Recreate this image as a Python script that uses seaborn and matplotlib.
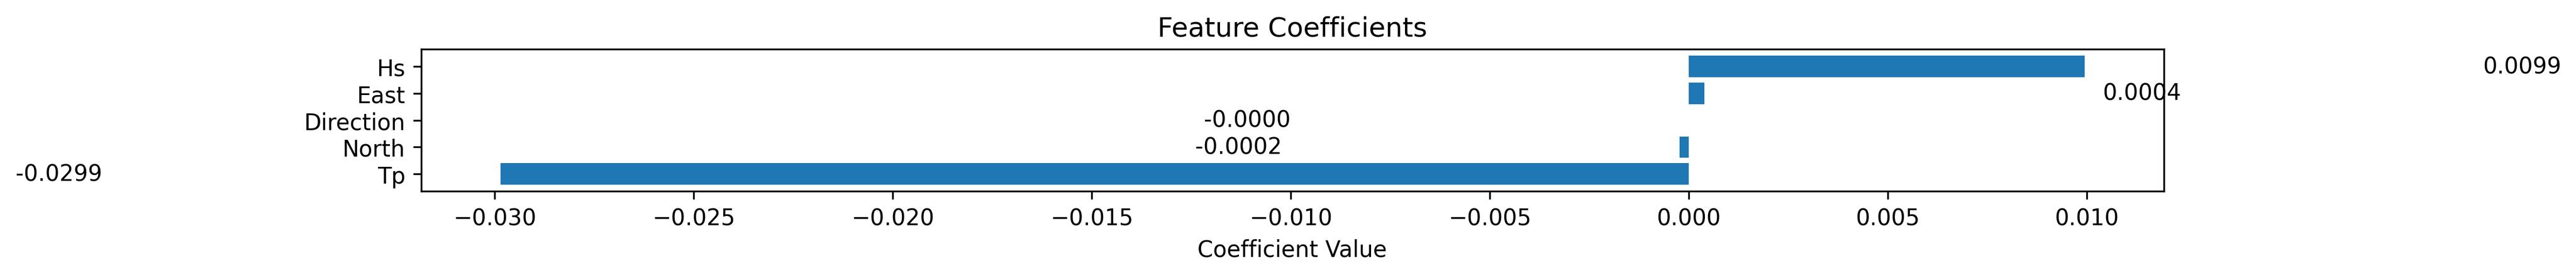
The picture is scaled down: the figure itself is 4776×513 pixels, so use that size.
#!/usr/bin/env python3
"""Feature coefficient bar chart."""

import pandas as pd
import matplotlib
matplotlib.use("Agg")
import matplotlib.pyplot as plt
import seaborn as sns

# Data
FEATURES = ['Hs', 'East', 'Direction', 'North', 'Tp']
COEFFICIENTS = [0.00994, 0.00039, -0.000003, -0.00023, -0.02986]
LABEL_OFFSET = 0.01

df = pd.DataFrame({'Feature': FEATURES, 'Coefficient': COEFFICIENTS})

fig = plt.figure(figsize=(15.92, 1.713), dpi=300)
ax = fig.add_axes([0.16346, 0.3093, 0.6765, 0.5111])

sns.barplot(data=df, x='Coefficient', y='Feature', orient='h',
            color='#1f77b4', saturation=1, linewidth=0, width=0.8, ax=ax)

# Value labels next to bars
for i, v in enumerate(df['Coefficient']):
    if v > 0:
        ax.text(v + LABEL_OFFSET, i, f"{v:.4f}", ha='left', va='center', fontsize=10)
    else:
        ax.text(v - LABEL_OFFSET, i, f"{v:.4f}", ha='right', va='center', fontsize=10)

# matplotlib-style autoscale limits (5% padding)
lo, hi = df['Coefficient'].min(), df['Coefficient'].max()
pad = 0.05 * (hi - lo)
ax.set_xlim(lo - pad, hi + pad)
ax.set_ylim(len(FEATURES) - 1 + 0.64, -0.64)

ax.set_title('Feature Coefficients', fontsize=12)
ax.set_xlabel('Coefficient Value')
ax.set_ylabel('')
for side in ['top', 'right', 'left', 'bottom']:
    ax.spines[side].set_visible(True)

fig.savefig('out.png', dpi=300)
plt.close(fig)
